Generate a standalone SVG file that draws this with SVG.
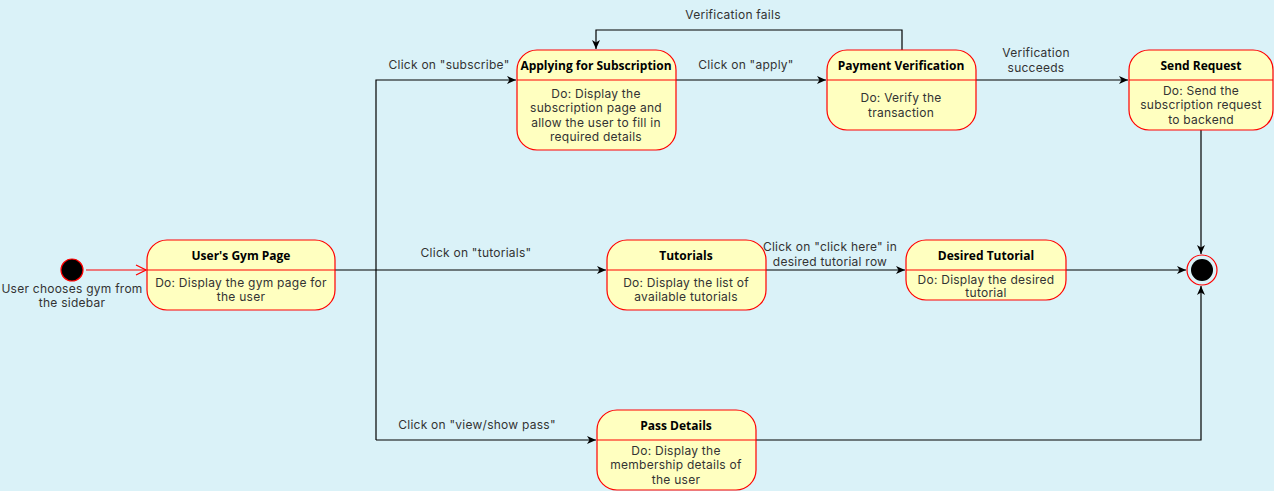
<svg xmlns="http://www.w3.org/2000/svg" width="1274" height="491" viewBox="0 0 1274 491">
<style>
.st{fill:#ffffc0;stroke:#ff0000;stroke-width:1.2}
.dv{stroke:#ff0000;stroke-width:1.2}
.t{font-family:Inter,"Open Sans","Liberation Sans",sans-serif;font-size:12px;letter-spacing:0.25px;fill:#333;text-anchor:middle}
.b{font-family:"Open Sans","Liberation Sans",sans-serif;font-size:12px;font-weight:bold;fill:#000;text-anchor:middle}
.e{fill:none;stroke:#000;stroke-width:1.2}
</style>
<defs>
<marker id="ar" markerWidth="10" markerHeight="10" refX="9" refY="5" orient="auto" markerUnits="userSpaceOnUse">
<path d="M0,1 L9,5 L0,9 L2.5,5 Z" fill="#000"/>
</marker>
<marker id="ro" markerWidth="12" markerHeight="12" refX="11" refY="6" orient="auto" markerUnits="userSpaceOnUse">
<path d="M1,1 L11,6 L1,11" fill="none" stroke="#ff0000" stroke-width="1.2"/>
</marker>
</defs>
<rect width="1274" height="491" fill="#daf2f8"/>
<g id="connectors">
<path class="e" d="M86,270 L146,270" style="stroke:#ff0000" marker-end="url(#ro)"/>
<path class="e" d="M335,270 L606,270" marker-end="url(#ar)"/>
<path class="e" d="M376,440 L376,80 L516,80" marker-end="url(#ar)"/>
<path class="e" d="M376,440 L596,440" marker-end="url(#ar)"/>
<path class="e" d="M676,80 L826,80" marker-end="url(#ar)"/>
<path class="e" d="M902,50 L902,30 L596,30 L596,49" marker-end="url(#ar)"/>
<path class="e" d="M976,80 L1128,80" marker-end="url(#ar)"/>
<path class="e" d="M1201,130 L1201,254" marker-end="url(#ar)"/>
<path class="e" d="M766,270 L905,270" marker-end="url(#ar)"/>
<path class="e" d="M1066,270 L1186,270" marker-end="url(#ar)"/>
<path class="e" d="M756,440 L1201,440 L1201,286" marker-end="url(#ar)"/>
<text class="t" x="476" y="257">Click on "tutorials"</text>
<text class="t" x="449" y="69">Click on "subscribe"</text>
<text class="t" x="477" y="429">Click on "view/show pass"</text>
<text class="t" x="746" y="69">Click on "apply"</text>
<text class="t" x="733" y="19">Verification fails</text>
<text class="t" x="1036" y="57">Verification</text>
<text class="t" x="1036" y="72">succeeds</text>
<text class="t" x="830" y="251">Click on "click here" in</text>
<text class="t" x="830" y="266">desired tutorial row</text>
</g>
<g id="initial">
<circle cx="72" cy="270" r="11" fill="#000" stroke="#ff0000" stroke-width="1.2"/>
<text class="t" x="72" y="293">User chooses gym from</text>
<text class="t" x="72" y="307">the sidebar</text>
</g>
<g id="gym-page">
<rect class="st" x="147" y="240" width="188" height="70" rx="20"/>
<line class="dv" x1="147" y1="270" x2="335" y2="270"/>
<text class="b" x="241" y="260">User's Gym Page</text>
<text class="t" x="241" y="287">Do: Display the gym page for</text>
<text class="t" x="241" y="301">the user</text>
</g>
<g id="applying">
<rect class="st" x="517" y="50" width="159" height="100" rx="20"/>
<line class="dv" x1="517" y1="80" x2="676" y2="80"/>
<text class="b" x="596" y="70">Applying for Subscription</text>
<text class="t" x="596" y="98">Do: Display the</text>
<text class="t" x="596" y="112">subscription page and</text>
<text class="t" x="596" y="127">allow the user to fill in</text>
<text class="t" x="596" y="141">required details</text>
</g>
<g id="payment">
<rect class="st" x="827" y="50" width="149" height="80" rx="20"/>
<line class="dv" x1="827" y1="80" x2="976" y2="80"/>
<text class="b" x="901" y="70">Payment Verification</text>
<text class="t" x="901" y="102">Do: Verify the</text>
<text class="t" x="901" y="117">transaction</text>
</g>
<g id="send-request">
<rect class="st" x="1129" y="50" width="144" height="80" rx="20"/>
<line class="dv" x1="1129" y1="80" x2="1273" y2="80"/>
<text class="b" x="1201" y="70">Send Request</text>
<text class="t" x="1201" y="95">Do: Send the</text>
<text class="t" x="1201" y="109">subscription request</text>
<text class="t" x="1201" y="124">to backend</text>
</g>
<g id="tutorials">
<rect class="st" x="607" y="240" width="159" height="70" rx="20"/>
<line class="dv" x1="607" y1="270" x2="766" y2="270"/>
<text class="b" x="686" y="260">Tutorials</text>
<text class="t" x="686" y="287">Do: Display the list of</text>
<text class="t" x="686" y="301">available tutorials</text>
</g>
<g id="desired-tutorial">
<rect class="st" x="906" y="240" width="160" height="60" rx="20"/>
<line class="dv" x1="906" y1="270" x2="1066" y2="270"/>
<text class="b" x="986" y="260">Desired Tutorial</text>
<text class="t" x="986" y="284">Do: Display the desired</text>
<text class="t" x="986" y="297">tutorial</text>
</g>
<g id="pass-details">
<rect class="st" x="597" y="410" width="159" height="80" rx="20"/>
<line class="dv" x1="597" y1="440" x2="756" y2="440"/>
<text class="b" x="676" y="430">Pass Details</text>
<text class="t" x="676" y="455">Do: Display the</text>
<text class="t" x="676" y="469">membership details of</text>
<text class="t" x="676" y="484">the user</text>
</g>
<g id="final">
<circle cx="1202" cy="270" r="15" fill="none" stroke="#ff0000" stroke-width="1.2"/>
<circle cx="1202" cy="270" r="11" fill="#000"/>
</g>
</svg>
